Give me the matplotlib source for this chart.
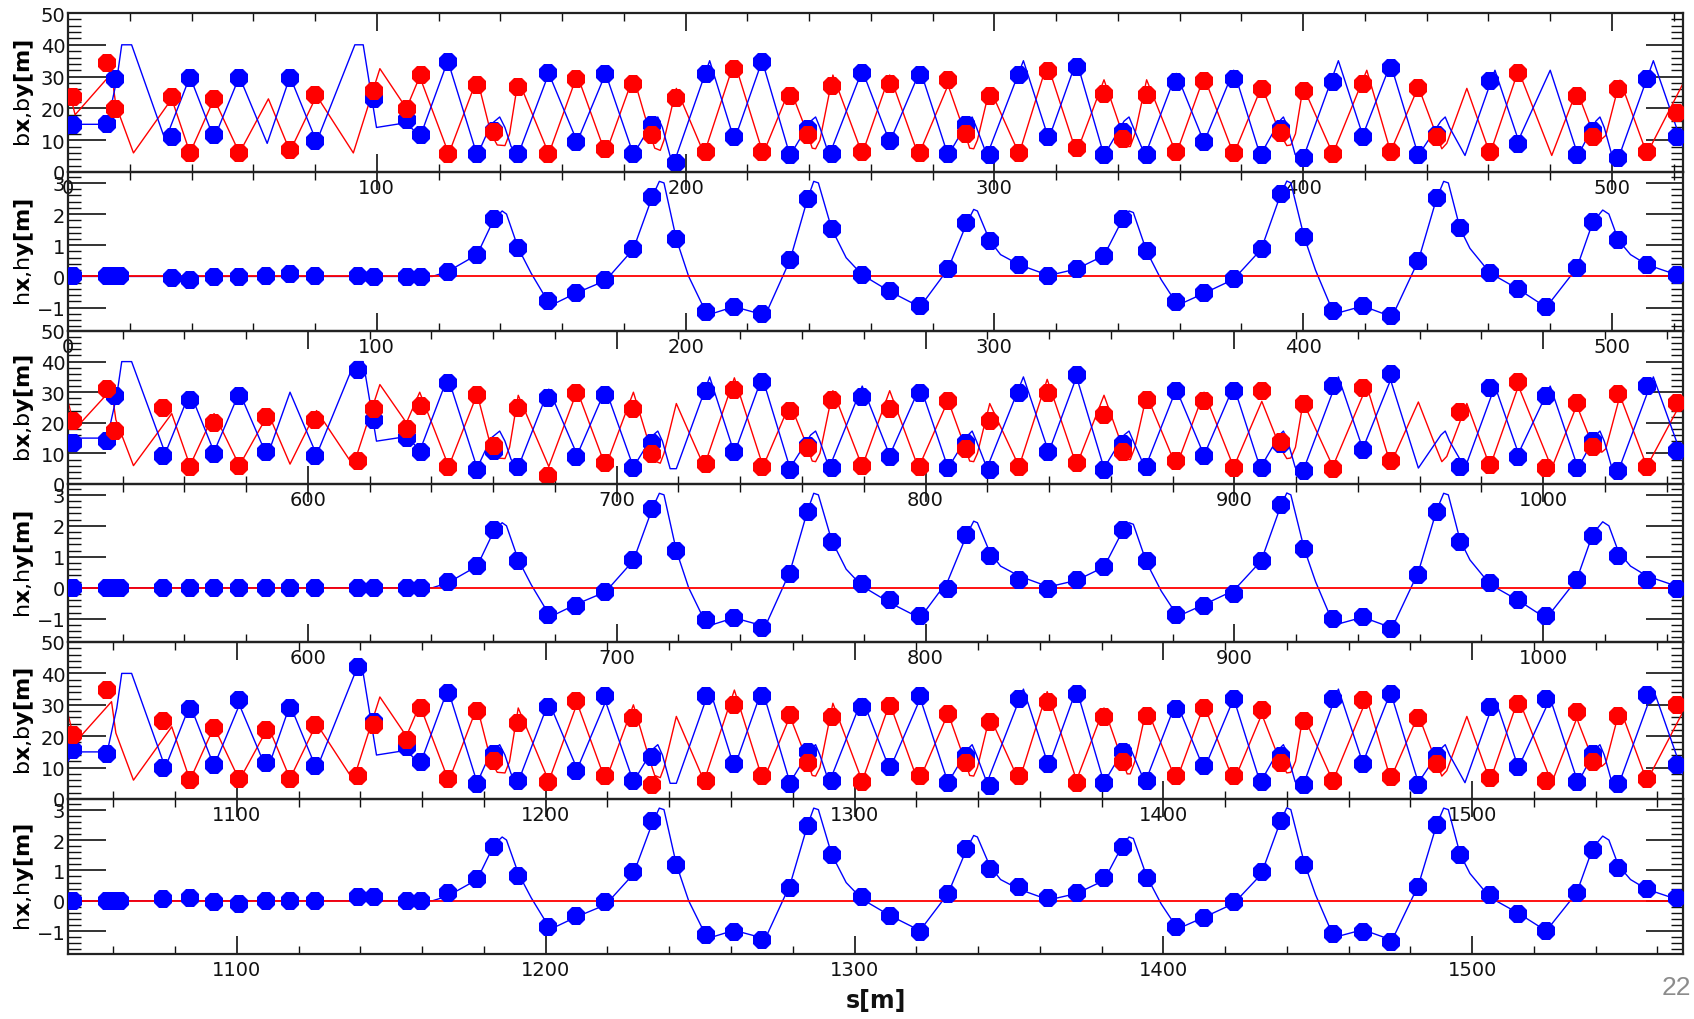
import numpy as np
import matplotlib
matplotlib.use("Agg")
import matplotlib.pyplot as plt
from matplotlib.ticker import MultipleLocator

nan = np.nan

# ring is shown in three pieces, each about 523 m long
sec_start = [0.0, 522.3, 1045.3]
sec_len = 523.0

# BPM positions inside one piece [m]
bpm_s_1 = [1.7, 12.7, 15.2, 16.9, 33.6, 39.5, 47.3, 55.5, 64.0, 71.9, 80.0, 94.0, 99.1, 109.9, 114.2, 123.0,
           132.5, 138.0, 145.8, 155.5, 164.6, 174.0, 183.1, 189.0, 197.0, 206.5, 215.7, 224.8, 233.8, 239.5,
           247.4, 257.2, 266.1, 275.8, 285.0, 290.8, 298.5, 308.0, 317.4, 326.6, 335.5, 341.5, 349.3, 358.9,
           367.9, 377.5, 386.6, 392.7, 400.3, 409.6, 419.3, 428.3, 437.3, 443.2, 450.8, 460.5, 469.7, 478.7,
           488.6, 493.8, 502.1, 511.3, 521.0]
bpm_s_23 = list(bpm_s_1)
bpm_s_23[4] = 30.9

# measured beta at the BPMs (nan = no reading)
bx_1 = [14.7, 15.2, 29.4, nan, 11.0, 29.6, 11.5, 29.6, nan, 29.6, 9.9, nan, 23.1, 16.2, 11.5, 34.7,
        5.7, 13.0, 5.7, 31.0, 9.4, 30.7, 5.7, 14.7, 2.8, 30.7, 11.0, 34.7, 5.2, 13.6, 5.7, 31.0, 9.6, 30.5,
        5.7, 14.7, 5.2, 30.5, 11.0, 33.0, 5.2, 12.6, 5.2, 28.4, 9.4, 29.2,
        5.2, 13.6, 4.3, 28.4, 11.0, 32.8, 5.2, 11.5, nan, 28.6, 8.9, nan, 5.2, 13.0, 4.3, 29.4, 11.0]
by_1 = [23.5, 34.2, 19.9, nan, 23.6, 6.0, 23.1, 6.0, nan, 6.8, 24.2, nan, 25.4, 19.9, 30.5, 5.7,
        27.5, 12.6, 26.6, 5.7, 29.4, 7.3, 27.8, 11.7, 23.3, 6.4, 32.3, 6.4, 24.0, 11.5, 27.1, 6.4, 27.8, 6.0,
        28.9, 12.0, 24.0, 6.0, 31.8, 7.5, 24.4, 10.4, 24.2, 6.2, 28.6, 6.0,
        26.0, 12.3, 25.4, 5.7, 27.8, 6.4, 26.3, 11.0, nan, 6.2, 31.0, nan, 24.0, 11.0, 26.0, 6.4, 18.4]

bx_2 = [13.5, 14.0, 28.6, nan, 9.2, 27.6, 9.7, 28.6, 10.3, nan, 9.2, 37.3, 21.0, 15.1, 10.3, 33.0,
        4.5, 10.8, 5.4, 28.1, 8.7, 29.0, 5.2, 13.5, nan, 30.3, 10.3, 33.3, 4.5, 12.5, 5.2, 28.4, 8.7, 29.8,
        5.2, 13.5, 4.5, 29.8, 10.3, 35.7, 4.5, 13.0, 5.6, 30.3, 9.2, 30.5,
        5.2, 13.0, 4.3, 32.0, 11.0, 35.9, nan, nan, 5.7, 31.5, 8.9, 28.8, 5.2, 14.1, 4.3, 32.0, 10.9]
by_2 = [20.5, 31.0, 17.3, nan, 24.9, 5.4, 20.0, 5.9, 22.0, nan, 21.0, 7.6, 24.5, 18.0, 25.6, 5.4,
        29.2, 12.4, 24.9, 2.7, 29.8, 7.0, 24.4, 9.7, nan, 6.5, 30.8, 5.4, 24.0, 11.7, 27.6, 6.0, 24.4, 5.6,
        27.0, 11.4, 20.6, 5.4, 29.8, 7.0, 22.7, 10.6, 27.6, 7.6, 27.0, 5.2,
        30.5, 13.6, 26.0, 4.9, 31.3, 7.4, nan, nan, 23.4, 6.3, 33.2, 5.2, 26.6, 12.2, 29.3, 5.7, 26.6]

bx_3 = [15.5, 14.4, nan, nan, 9.8, 28.8, 10.9, 31.5, 11.5, 29.0, 10.5, 42.0, 24.5, 16.5, 11.7, 33.6,
        4.8, 14.3, 5.8, 29.2, 9.0, 32.9, 5.8, 13.3, nan, 32.9, 11.1, 32.9, 4.8, 14.9, 5.8, 29.2, 10.1, 32.9,
        5.1, 13.8, 4.2, 31.8, 11.1, 33.4, 5.1, 14.9, 5.8, 28.7, 10.6, 31.8,
        5.5, 13.8, 4.5, 32.0, 11.1, 33.4, 4.5, 13.8, nan, 29.2, 10.1, 32.0, 5.5, 14.3, 4.8, 33.1, 10.8]
by_3 = [20.5, 34.7, nan, nan, 25.0, 5.9, 22.6, 6.4, 22.0, 6.4, 23.7, 7.3, 23.7, 18.7, 29.0, 6.4,
        28.1, 12.2, 24.2, 5.5, 31.3, 7.4, 25.7, 4.5, nan, 5.8, 29.9, 7.2, 26.8, 11.5, 26.0, 5.5, 29.7, 7.2,
        27.0, 11.5, 24.4, 7.2, 31.0, 5.1, 26.0, 11.7, 26.5, 7.2, 28.9, 7.4,
        28.5, 11.5, 24.9, 5.8, 31.6, 6.9, 25.7, 11.1, nan, 6.6, 30.3, 5.8, 27.6, 11.7, 26.3, 6.4, 29.9]

# measured horizontal dispersion at the BPMs
hx_1 = [0.0, 0.0, 0.0, 0.0, -0.05, -0.1, -0.02, -0.02, 0.03, 0.08, 0.03, 0.03, -0.02, -0.02, -0.02, 0.15,
        0.70, 1.85, 0.91, -0.78, -0.54, -0.13, 0.88, 2.55, 1.20, -1.13, -0.97, -1.20, 0.52, 2.49, 1.53, 0.05,
        -0.48, -0.95, 0.24, 1.72, 1.15, 0.38, 0.03, 0.24, 0.67, 1.83, 0.81, -0.81, -0.54, -0.09,
        0.88, 2.63, 1.27, -1.10, -0.95, -1.27, 0.51, 2.50, 1.54, 0.11, -0.41, -0.97, 0.27, 1.74, 1.16, 0.38, 0.05]
hx_2 = [0.0, 0.0, 0.0, 0.0, 0.0, 0.0, 0.0, 0.0, 0.0, 0.0, 0.0, -0.02, -0.02, 0.0, 0.0, 0.2,
        0.69, 1.85, 0.86, -0.89, -0.60, -0.14, 0.90, 2.55, 1.20, -1.03, -0.97, -1.29, 0.43, 2.44, 1.47, 0.13,
        -0.41, -0.92, -0.03, 1.69, 1.04, 0.26, -0.03, 0.24, 0.67, 1.85, 0.86, -0.89, -0.60, -0.19,
        0.88, 2.66, 1.26, -1.00, -0.95, -1.32, 0.40, 2.44, 1.47, 0.15, -0.39, -0.92, 0.26, 1.66, 1.04, 0.24, -0.03]
hx_3 = [0.0, 0.0, 0.0, 0.0, 0.05, 0.08, -0.05, -0.1, 0.0, 0.0, 0.0, 0.13, 0.13, 0.0, 0.0, 0.25,
        0.72, 1.76, 0.80, -0.87, -0.49, -0.03, 0.94, 2.62, 1.17, -1.14, -1.03, -1.30, 0.42, 2.46, 1.52, 0.12,
        -0.49, -1.03, 0.23, 1.69, 1.06, 0.44, 0.08, 0.26, 0.76, 1.76, 0.76, -0.87, -0.55, -0.03,
        0.96, 2.62, 1.19, -1.09, -1.03, -1.35, 0.44, 2.48, 1.52, 0.18, -0.42, -1.00, 0.26, 1.66, 1.09, 0.40, 0.08]

# design optics, same in each piece (turning points)
bx_model_s = [0, 1.7, 12.7, 15.8, 17.4, 20.6, 31.5, 39.5, 47.3, 55.5, 64.5, 71.9, 80.5, 92.9, 95.6, 99.9,
              109.6, 114.0, 123.0, 132.5, 137.0, 139.8, 141.5, 143.5, 145.8, 155.7, 164.9, 174.1, 183.1,
              189.5, 191.0, 192.5, 195.0, 197.0, 207.8, 215.8, 224.8, 233.8, 240.5, 242.1, 243.5, 246.5,
              257.2, 266.1, 276.0, 285.0, 291.5, 292.8, 294.2, 297.6, 309.4, 317.6, 326.6, 335.5, 342.0,
              343.6, 345.0, 348.8, 358.9, 367.9, 377.5, 386.1, 392.3, 393.6, 395.0, 397.4, 400.3, 411.4,
              419.3, 428.3, 437.3, 444.6, 446.0, 447.4, 452.4, 462.1, 469.7, 480.0, 489.0, 494.8, 496.1,
              497.5, 500.0, 502.4, 513.4, 523.0]
bx_model = [12, 15, 15, 29, 40, 40, 10, 30, 10.5, 30, 9, 30, 9.5, 40, 40, 14,
            15.5, 11, 35, 5.2, 15, 17.3, 14, 8, 5.5, 31, 9.5, 31, 5.5,
            16, 17.3, 14, 5, 5, 35, 10, 35, 5.2, 16, 17.3, 14, 5.2,
            32, 9.4, 32, 5.2, 16, 17.3, 14, 5.2, 35, 10.4, 35, 5.2, 16,
            17.3, 14, 5.2, 31, 9.4, 32, 5.2, 16, 17.3, 14, 5.5, 5.2, 35,
            11.5, 34, 5.2, 16, 17.3, 14, 5.2, 32, 10, 32, 5.2, 16, 17.3,
            14, 5.2, 5.2, 35, 8]
by_model_s = [0, 2.3, 14.1, 15.5, 21.2, 33.6, 39.5, 47.3, 55.5, 64.9, 71.9, 80.5, 92.4, 101.0, 109.6,
              113.9, 123.3, 132.5, 137.0, 139.0, 141.5, 143.0, 145.8, 155.7, 164.9, 174.1, 183.1, 188.5,
              190.0, 191.8, 193.0, 197.0, 206.0, 215.8, 225.1, 233.8, 239.5, 241.0, 242.1, 243.5, 247.7,
              257.2, 266.1, 275.4, 285.0, 290.5, 292.0, 293.3, 294.5, 298.5, 308.0, 317.1, 326.6, 335.5,
              341.5, 343.0, 344.0, 345.5, 349.3, 358.9, 367.9, 377.5, 386.6, 392.5, 394.7, 396.0, 397.5,
              400.0, 409.6, 420.6, 428.3, 437.3, 443.0, 444.9, 446.5, 453.0, 460.5, 469.7, 480.5, 488.6,
              494.0, 496.7, 498.0, 502.6, 511.3, 523.0]
by_model = [27, 18, 31, 21, 6, 23, 6, 23, 6, 23, 6.5, 24, 6, 32.5, 20,
            30, 5.7, 29.4, 12, 8.5, 8.3, 12, 29, 5.7, 30.5, 5.7, 30, 12,
            7.5, 6.8, 10, 26.3, 5.7, 34.7, 5.7, 26.3, 12, 7.5, 7.3, 10, 30.5,
            5.7, 30.5, 5.2, 27.3, 12, 7.5, 7.3, 10, 26.3, 5.7, 34.2, 6, 29,
            12, 8, 8, 12, 29, 5.7, 30, 5.5, 27, 12, 8.3, 8.5, 12,
            26.8, 5.7, 32, 6.4, 26.8, 12, 7.3, 9, 26.3, 5.7, 32, 5.2, 25.7,
            12, 10.4, 11.5, 28.9, 5.7, 27.8]
hx_model_s = [0, 118, 123, 132.5, 138, 140.6, 142, 145.8, 150, 155.4, 158, 164.4, 174.1, 183.1, 189.2,
              191.5, 193, 197, 201, 206.6, 209, 215.7, 224.8, 226, 233.8, 239.5, 241.5, 243, 247.3, 252,
              257.2, 266.1, 275.9, 285, 291.1, 293.3, 294.5, 298.5, 302, 308, 317.6, 326.6, 335.5, 341.5,
              343.6, 345, 349.3, 354, 358.9, 361, 367.9, 377.5, 386.4, 392.7, 394.7, 396, 400.3, 404,
              409.6, 412, 419.3, 428.1, 429, 437.3, 443.2, 445.5, 447, 450.8, 454, 460.5, 469.7, 478.7,
              488.6, 493.8, 497, 499, 502.1, 506, 511.3, 521, 523]
hx_model = [0, 0, 0.16, 0.7, 1.85, 2.1, 2.0, 0.91, 0.1, -0.8, -0.85, -0.54, -0.13, 0.88, 2.55,
            3.05, 3.0, 1.2, 0, -1.15, -1.18, -0.97, -1.22, -1.2, 0.52, 2.49, 3.05, 3.0, 1.53, 0.6,
            0.05, -0.48, -0.98, 0.24, 1.72, 2.15, 2.1, 1.15, 0.7, 0.38, 0.03, 0.24, 0.67, 1.83,
            2.1, 2.05, 0.81, -0.1, -0.85, -0.85, -0.54, -0.09, 0.87, 2.63, 3.06, 3.0, 1.27, 0.2,
            -1.12, -1.15, -0.95, -1.27, -1.25, 0.51, 2.5, 3.05, 3.0, 1.54, 0.9, 0.11, -0.41, -0.99,
            0.27, 1.74, 2.13, 2.0, 1.16, 0.7, 0.38, 0.05, 0]
hy_model = [0.0, 0.0]

bpm_s = [bpm_s_1, bpm_s_23, bpm_s_23]
bx_meas = [bx_1, bx_2, bx_3]
by_meas = [by_1, by_2, by_3]
hx_meas = [hx_1, hx_2, hx_3]

BLUE = "#0000ff"
RED = "#ff0000"

W, H = 1694, 1020
fig = plt.figure(figsize=(W / 100, H / 100), dpi=100)
fig.patch.set_facecolor("white")
plt.rcParams["mathtext.fontset"] = "dejavusans"

# panel edges in pixels from the top
edges = [14, 173, 332, 485, 643, 800, 955]
x0, x1 = 68, 1683


def style_axis(ax, beta):
    ax.patch.set_alpha(0)
    for sp in ax.spines.values():
        sp.set_linewidth(1.6)
        sp.set_color("#222222")
    ax.xaxis.set_major_locator(MultipleLocator(100))
    ax.xaxis.set_minor_locator(MultipleLocator(20))
    if beta:
        ax.set_ylim(0, 50)
        ax.yaxis.set_major_locator(MultipleLocator(10))
        ax.yaxis.set_minor_locator(MultipleLocator(2))
        ax.set_ylabel(r"b$\mathbf{x}$,b$\mathbf{y[m]}$", fontsize=16)
    else:
        ax.set_ylim(-1.75, 3.35)
        ax.yaxis.set_major_locator(MultipleLocator(1))
        ax.yaxis.set_minor_locator(MultipleLocator(0.2))
        ax.set_ylabel(r"h$\mathbf{x}$,h$\mathbf{y[m]}$", fontsize=16)
    ax.tick_params(which="both", direction="in", top=True, right=True, labelsize=14, colors="#111111")
    ax.tick_params(axis="y", which="major", length=27, width=1.2, pad=2)
    ax.tick_params(axis="y", which="minor", length=9, width=1.0)
    ax.tick_params(axis="x", which="major", length=13, width=1.2, pad=4)
    ax.tick_params(axis="x", which="minor", length=6, width=1.0)
    ax.yaxis.set_label_coords(-0.02, 0.5)


for k in range(3):
    s0 = sec_start[k]
    xlim = (s0, s0 + sec_len)
    s_bpm = np.array(bpm_s[k]) + s0

    # beta panel
    top, bot = edges[2 * k], edges[2 * k + 1]
    ax = fig.add_axes([x0 / W, 1 - bot / H, (x1 - x0) / W, (bot - top) / H])
    ax.plot(np.array(by_model_s) + s0, by_model, color=RED, lw=1.0, zorder=2)
    ax.plot(np.array(bx_model_s) + s0, bx_model, color=BLUE, lw=1.0, zorder=3)
    ax.plot(s_bpm, bx_meas[k], ls="none", marker="8", ms=14, mew=0, color=BLUE, zorder=4)
    ax.plot(s_bpm, by_meas[k], ls="none", marker="8", ms=14, mew=0, color=RED, zorder=5)
    ax.set_xlim(*xlim)
    style_axis(ax, True)

    # dispersion panel
    top, bot = edges[2 * k + 1], edges[2 * k + 2]
    ax = fig.add_axes([x0 / W, 1 - bot / H, (x1 - x0) / W, (bot - top) / H])
    ax.plot(np.array(hx_model_s) + s0, hx_model, color=BLUE, lw=1.0, zorder=2)
    ax.plot([xlim[0], xlim[1]], hy_model, color=RED, lw=1.3, zorder=3)
    ax.plot(s_bpm, hx_meas[k], ls="none", marker="8", ms=14, mew=0, color=BLUE, zorder=4)
    ax.set_xlim(*xlim)
    style_axis(ax, False)

fig.text((x0 + x1) / 2 / W, 1 - 1001 / H, "s[m]", fontsize=17, fontweight="bold",
         ha="center", va="center", color="#111111")
fig.text(1691 / W, 1 - 988 / H, "22", fontsize=19, color="#8c8c8c", ha="right", va="center",
         family="Liberation Sans")

fig.savefig("out.png", dpi=100, facecolor="white")
